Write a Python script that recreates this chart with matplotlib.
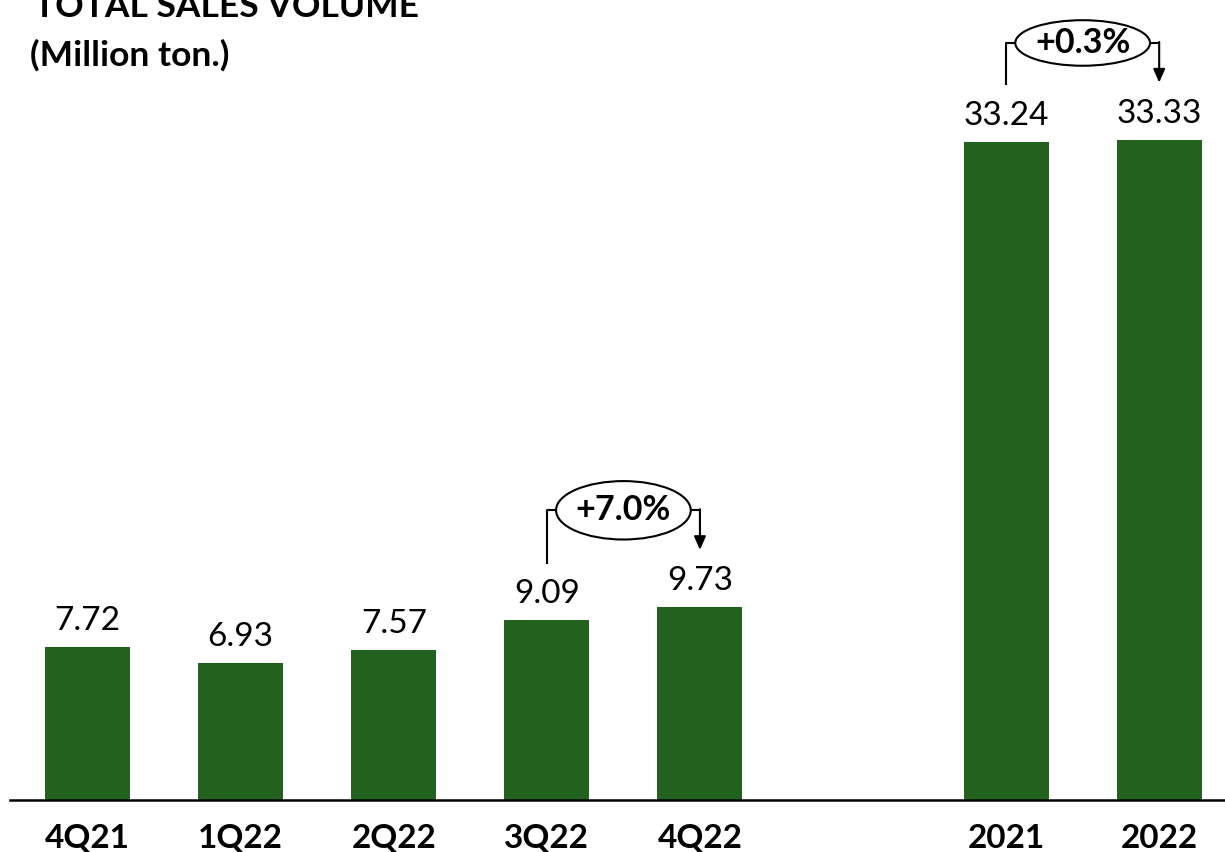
import matplotlib.pyplot as plt
from matplotlib.patches import Ellipse

categories = ["4Q21", "1Q22", "2Q22", "3Q22", "4Q22", "2021", "2022"]
positions = [0, 1, 2, 3, 4, 6, 7]
volumes = [7.72, 6.93, 7.57, 9.09, 9.73, 33.24, 33.33]
# pairs of bar indices compared by the growth bubbles
growth_pairs = [(3, 4), (5, 6)]

green = "#23611f"
font = "Lato"

fig = plt.figure(figsize=(12.25, 8.52), dpi=100)
ax = fig.add_axes([10 / 1225, 52 / 852, 1215 / 1225, 800 / 852])

ax.bar(positions, volumes, width=0.556, color=green, zorder=2)

for x, v in zip(positions, volumes):
    ax.annotate(f"{v:.2f}", (x, v), xytext=(0, 8), textcoords="offset points",
                ha="center", va="bottom", fontsize=24, family=font)

ell_heights = [2.95, 2.3]
for (i, j), eh in zip(growth_pairs, ell_heights):
    x1, x2 = positions[i], positions[j]
    v1, v2 = volumes[i], volumes[j]
    top = max(v1, v2) + 4.9
    xm = (x1 + x2) / 2
    ew = 0.88
    # left leg of the bracket
    ax.plot([x1, x1, xm - ew / 2], [v1 + 2.9, top, top], color="black", lw=1.5, zorder=3)
    # right leg ending in an arrow
    ax.plot([xm + ew / 2, x2], [top, top], color="black", lw=1.5, zorder=3)
    ax.annotate("", xy=(x2, v2 + 2.9), xytext=(x2, top + 0.05),
                arrowprops=dict(arrowstyle="-|>,head_length=0.8,head_width=0.35",
                                color="black", lw=1.5, shrinkA=0, shrinkB=0), zorder=3)
    ax.add_patch(Ellipse((xm, top), ew, eh, facecolor="white", edgecolor="black",
                         lw=1.5, zorder=4))
    pct = (v2 / v1 - 1) * 100
    ax.text(xm, top, f"+{pct:.1f}%", ha="center", va="center", fontsize=24.5,
            fontweight="bold", family=font, zorder=5)

ax.set_xlim(-0.507, 7.43)
ax.set_ylim(0, 40.4)
ax.set_xticks(positions)
ax.set_xticklabels(categories, fontsize=24, fontweight="bold", family=font)
ax.tick_params(axis="x", length=0, pad=17)
ax.set_yticks([])
for side in ["top", "right", "left"]:
    ax.spines[side].set_visible(False)
ax.spines["bottom"].set_linewidth(1.8)
ax.patch.set_alpha(0)

fig.text(34 / 1225, 1 - 17 / 852, "TOTAL SALES VOLUME", fontsize=25.5, fontweight="bold",
         family=font, va="baseline", ha="left")
fig.text(30 / 1225, 1 - 66 / 852, "(Million ton.)", fontsize=25.5, fontweight="bold",
         family=font, va="baseline", ha="left")

fig.savefig("out.png", dpi=100)
